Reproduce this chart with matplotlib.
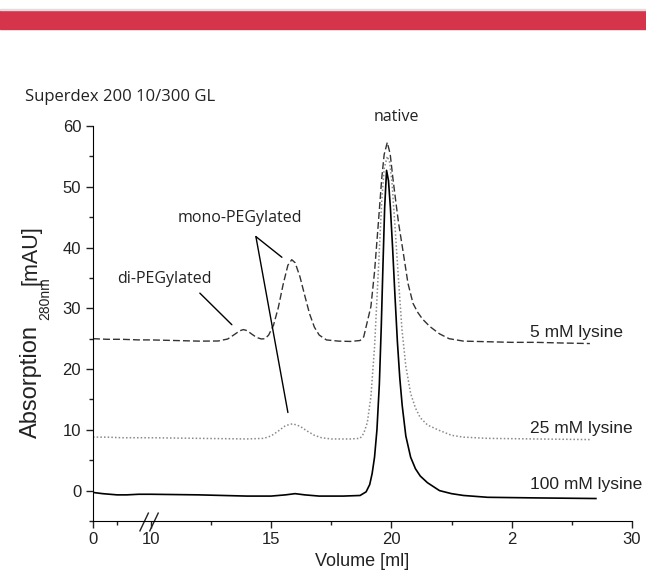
import numpy as np
import matplotlib.pyplot as plt
from matplotlib.patches import Rectangle

plt.rcParams['font.family'] = ['Liberation Sans', 'DejaVu Sans']

# elution volume [ml] and absorption at 280 nm [mAU]
vol_5mM = [0, 3, 6, 9.5, 10, 11, 12, 12.8, 13.2, 13.5, 13.7, 13.85, 14.0, 14.2, 14.4,
           14.6, 14.75, 14.9, 15.1, 15.3, 15.5, 15.7, 15.86, 16.0, 16.2, 16.4, 16.6,
           16.8, 17.0, 17.3, 17.8, 18.3, 18.7, 18.85, 19.0, 19.15, 19.3, 19.45, 19.6,
           19.7, 19.83, 19.95, 20.06, 20.17, 20.3, 20.48, 20.69, 20.9, 21.1, 21.3,
           21.6, 22.0, 22.4, 23.0, 24.0, 25.0, 26.0, 27.0, 28.25]
abs_5mM = [25.0, 24.9, 24.9, 24.8, 24.8, 24.7, 24.6, 24.62, 24.95, 25.75, 26.3, 26.5,
           26.33, 25.75, 25.2, 24.95, 25.0, 25.6, 27.2, 30.1, 33.9, 37.1, 38.0, 37.5,
           35.2, 32.1, 29.1, 26.9, 25.6, 24.8, 24.6, 24.55, 24.7, 25.3, 27.8, 30.3,
           36.0, 43.6, 51.4, 55.3, 57.3, 55.4, 51.5, 48.0, 44.0, 39.5, 34.1, 30.8,
           29.3, 28.2, 27.0, 25.8, 25.0, 24.6, 24.5, 24.4, 24.4, 24.3, 24.2]

vol_25mM = [0, 3, 6, 9.5, 10, 12, 14, 14.7, 15.0, 15.3, 15.6, 15.9, 16.2, 16.5, 16.8,
            17.1, 17.5, 18.3, 18.7, 18.85, 19.0, 19.15, 19.3, 19.45, 19.6, 19.7, 19.83,
            19.93, 20.03, 20.15, 20.3, 20.44, 20.6, 20.8, 21.0, 21.2, 21.5, 22.0, 22.5,
            23.0, 24.0, 26.0, 28.25]
abs_25mM = [8.8, 8.8, 8.7, 8.7, 8.7, 8.6, 8.5, 8.6, 9.0, 9.8, 10.7, 11.0, 10.6, 9.8,
            9.1, 8.7, 8.5, 8.5, 8.6, 9.4, 11.2, 15.5, 23.6, 35.5, 47.7, 53.0, 55.0,
            54.0, 50.5, 43.5, 34.5, 26.5, 20.5, 16.0, 13.6, 12.0, 10.8, 9.9, 9.1, 8.8,
            8.6, 8.5, 8.4]

vol_100mM = [0, 2, 5, 7, 9.5, 10, 12, 13, 14, 15, 15.6, 16.0, 16.4, 17.0, 18.0, 18.7,
             18.95, 19.1, 19.2, 19.3, 19.4, 19.5, 19.58, 19.65, 19.72, 19.8, 19.88,
             19.96, 20.05, 20.15, 20.25, 20.35, 20.45, 20.6, 20.8, 21.0, 21.2, 21.5,
             22.0, 22.5, 23.0, 24.0, 26.0, 28.5]
abs_100mM = [-0.3, -0.5, -0.7, -0.7, -0.6, -0.6, -0.7, -0.8, -0.9, -0.9, -0.7, -0.5,
             -0.7, -0.9, -0.9, -0.8, -0.2, 1.0, 2.8, 5.5, 10.0, 17.5, 27.0, 37.0, 46.5,
             52.7, 51.0, 46.5, 40.0, 32.0, 24.5, 18.5, 14.0, 9.0, 5.5, 3.6, 2.4, 1.3,
             0.0, -0.5, -0.8, -1.1, -1.2, -1.3]

tick_vals = [0, 5, 10, 12.5, 15, 17.5, 20, 22.5, 25, 27.5, 30]
tick_text = ['0', '', '10', '', '15', '', '20', '', '2', '', '30']
series_labels = ['5 mM lysine', '25 mM lysine', '100 mM lysine']


def to_axis(x):
    # axis break: 0-10 ml squeezed into a short stretch before the break
    x = np.asarray(x, dtype=float)
    return np.where(x < 10, 7.6 + 0.2 * x, x)


fig = plt.figure(figsize=(6.46, 5.78), dpi=100)
fig.patches.append(Rectangle((0, 1 - 29 / 578), 1, 19 / 578, transform=fig.transFigure,
                             color='#d6344a', zorder=0))
fig.patches.append(Rectangle((0, 1 - 10 / 578), 1, 1 / 578, transform=fig.transFigure,
                             color='#dddddd', zorder=0))

ax = fig.add_axes([93 / 646, 1 - 521 / 578, (632 - 93) / 646, (521 - 126) / 578])

ax.plot(to_axis(vol_5mM), abs_5mM, color='#333333', lw=1.0, dashes=(5, 2.2))
ax.plot(to_axis(vol_25mM), abs_25mM, color='#8a8a8a', lw=1.1, dashes=(1.0, 1.4))
ax.plot(to_axis(vol_100mM), abs_100mM, color='black', lw=1.2)

ax.set_xlim(7.6, 30)
ax.set_ylim(-5, 60)
for s in ['top', 'right']:
    ax.spines[s].set_visible(False)

major = [t for t, l in zip(tick_vals, tick_text) if l]
minor = [t for t, l in zip(tick_vals, tick_text) if not l]
ax.set_xticks(to_axis(major))
ax.set_xticklabels([l for l in tick_text if l])
ax.set_xticks(to_axis(minor), minor=True)
ax.set_yticks(np.arange(0, 61, 10))
ax.set_yticks(np.arange(-5, 61, 5), minor=True)
ax.tick_params(which='major', length=5, width=1, labelsize=12, color='#222222',
               labelcolor='#222222')
ax.tick_params(which='minor', length=3, width=1, color='#222222')
ax.tick_params(axis='x', pad=3)

# axis break marks
bt = ax.get_xaxis_transform()
ax.plot([9.72, 9.93], [-0.015, -0.0], color='white', lw=2.5, transform=bt, clip_on=False)
ax.plot([9.55, 9.9], [-0.025, 0.02], color='#222222', lw=1, transform=bt, clip_on=False)
ax.plot([9.96, 10.31], [-0.025, 0.02], color='#222222', lw=1, transform=bt, clip_on=False)

ax.set_xlabel('Volume [ml]', fontsize=13, labelpad=4, color='#222222')

# y label in three pieces (subscript wavelength)
fig.text(31 / 646, 1 - 382 / 578, 'Absorption', rotation=90, fontsize=17,
         ha='center', va='center', color='#222222')
fig.text(45 / 646, 1 - 299 / 578, '280nm', rotation=90, fontsize=10,
         ha='center', va='center', color='#222222')
fig.text(31 / 646, 1 - 255 / 578, '[mAU]', rotation=90, fontsize=15.5,
         ha='center', va='center', color='#222222')

fig.text(25 / 646, 1 - 97 / 578, 'Superdex 200 10/300 GL', fontsize=12,
         family='Open Sans', ha='left', va='center', color='#222222')

ann = dict(family='Open Sans', fontsize=11.5, color='#222222', ha='center', va='center')
ax.text(20.19, 61.5, 'native', clip_on=False, **ann)
ax.text(13.7, 44.8, 'mono-PEGylated', **ann)
ax.text(10.56, 34.8, 'di-PEGylated', **ann)
line = dict(arrowstyle='-', lw=1.0, color='black', shrinkA=0, shrinkB=0)
ax.annotate('', xy=(15.45, 38.4), xytext=(14.37, 41.8), arrowprops=line)
ax.annotate('', xy=(15.70, 12.85), xytext=(14.37, 41.8), arrowprops=line)
ax.annotate('', xy=(13.37, 27.3), xytext=(12.04, 32.5), arrowprops=line)

for lab, yv in zip(series_labels, [26.0, 10.2, 1.0]):
    ax.text(25.78, yv, lab, fontsize=12.5, ha='left', va='center', color='#222222',
            clip_on=False)

fig.savefig('out.png', dpi=100)
